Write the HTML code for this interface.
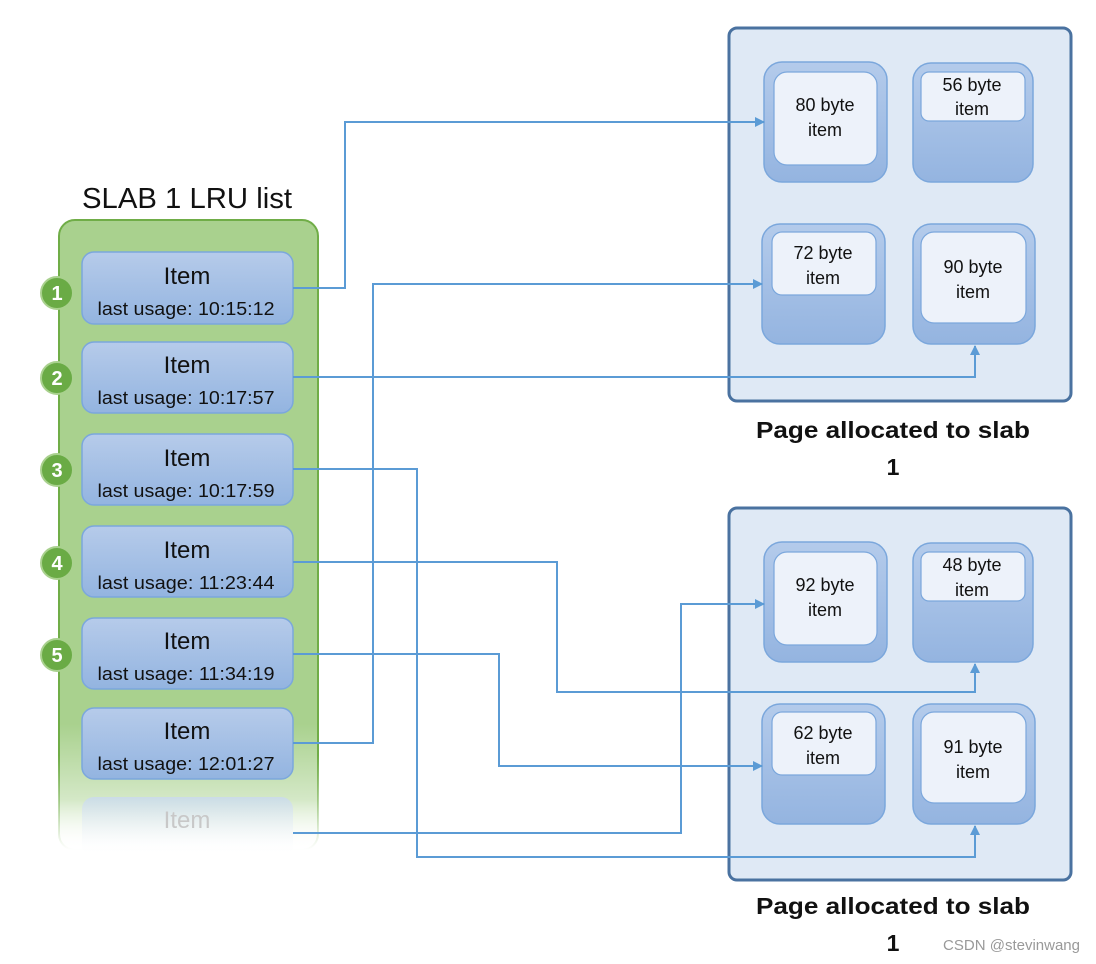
<!DOCTYPE html>
<html><head><meta charset="utf-8"><style>
html,body{margin:0;padding:0;background:#fff;width:1096px;height:964px;overflow:hidden}
svg text{font-family:"Liberation Sans",sans-serif}
</style></head><body>
<svg width="1096" height="964" viewBox="0 0 1096 964" xmlns="http://www.w3.org/2000/svg">
<defs>
<linearGradient id="gfade" x1="0" y1="0" x2="0" y2="1">
<stop offset="0" stop-color="#a9d18e"/>
<stop offset="0.8" stop-color="#a9d18e"/>
<stop offset="0.92" stop-color="#a9d18e" stop-opacity="0.5"/>
<stop offset="1" stop-color="#ffffff" stop-opacity="0"/>
</linearGradient>
<linearGradient id="gstroke" x1="0" y1="0" x2="0" y2="1">
<stop offset="0" stop-color="#70ad47"/>
<stop offset="0.85" stop-color="#70ad47"/>
<stop offset="1" stop-color="#70ad47" stop-opacity="0"/>
</linearGradient>
<linearGradient id="item" x1="0" y1="0" x2="0" y2="1">
<stop offset="0" stop-color="#b6cbea"/>
<stop offset="1" stop-color="#93b4e0"/>
</linearGradient>
<linearGradient id="itemfade" x1="0" y1="0" x2="0" y2="1">
<stop offset="0" stop-color="#c9d9f0" stop-opacity="0.8"/>
<stop offset="1" stop-color="#ffffff" stop-opacity="0"/>
</linearGradient>
<linearGradient id="outer" x1="0" y1="0" x2="0" y2="1">
<stop offset="0" stop-color="#b4cbeb"/>
<stop offset="1" stop-color="#94b4e0"/>
</linearGradient>
<marker id="ar" markerWidth="10" markerHeight="10" refX="9" refY="5" orient="auto" markerUnits="userSpaceOnUse">
<path d="M0,0 L10,5 L0,10 z" fill="#5b9bd5"/>
</marker>
</defs>

<!-- green container -->
<rect x="59" y="220" width="259" height="630" rx="16" fill="url(#gfade)" stroke="url(#gstroke)" stroke-width="2"/>
<text x="187" y="208" font-size="29" text-anchor="middle" fill="#111" textLength="210" lengthAdjust="spacingAndGlyphs">SLAB 1 LRU list</text>

<!-- items -->
<g stroke="#7ba7dc" stroke-width="1.5" fill="url(#item)">
<rect x="82" y="252" width="211" height="72" rx="12"/>
<rect x="82" y="342" width="211" height="71" rx="12"/>
<rect x="82" y="434" width="211" height="71" rx="12"/>
<rect x="82" y="526" width="211" height="71" rx="12"/>
<rect x="82" y="618" width="211" height="71" rx="12"/>
<rect x="82" y="708" width="211" height="71" rx="12"/>
</g>
<rect x="82" y="797" width="211" height="60" rx="12" fill="url(#itemfade)" stroke="none"/>
<g fill="#111" text-anchor="middle">
<text x="187" y="284" font-size="24">Item</text><text x="186" y="315" font-size="18" textLength="177" lengthAdjust="spacingAndGlyphs">last usage: 10:15:12</text>
<text x="187" y="373" font-size="24">Item</text><text x="186" y="404" font-size="18" textLength="177" lengthAdjust="spacingAndGlyphs">last usage: 10:17:57</text>
<text x="187" y="466" font-size="24">Item</text><text x="186" y="497" font-size="18" textLength="177" lengthAdjust="spacingAndGlyphs">last usage: 10:17:59</text>
<text x="187" y="558" font-size="24">Item</text><text x="186" y="589" font-size="18" textLength="177" lengthAdjust="spacingAndGlyphs">last usage: 11:23:44</text>
<text x="187" y="649" font-size="24">Item</text><text x="186" y="680" font-size="18" textLength="177" lengthAdjust="spacingAndGlyphs">last usage: 11:34:19</text>
<text x="187" y="739" font-size="24">Item</text><text x="186" y="770" font-size="18" textLength="177" lengthAdjust="spacingAndGlyphs">last usage: 12:01:27</text>
</g>
<text x="187" y="828" font-size="24" text-anchor="middle" fill="#c8c8c8">Item</text>

<!-- number circles -->
<g>
<circle cx="57" cy="293" r="16" fill="#6aab45" stroke="#a9d18e" stroke-width="2"/>
<circle cx="57" cy="378" r="16" fill="#6aab45" stroke="#a9d18e" stroke-width="2"/>
<circle cx="57" cy="470" r="16" fill="#6aab45" stroke="#a9d18e" stroke-width="2"/>
<circle cx="57" cy="563" r="16" fill="#6aab45" stroke="#a9d18e" stroke-width="2"/>
<circle cx="57" cy="655" r="16" fill="#6aab45" stroke="#a9d18e" stroke-width="2"/>
</g>
<g fill="#fff" font-size="20" font-weight="bold" text-anchor="middle">
<text x="57" y="300">1</text><text x="57" y="385">2</text><text x="57" y="477">3</text><text x="57" y="570">4</text><text x="57" y="662">5</text>
</g>

<!-- pages -->
<g fill="#dfe9f5" stroke="#4a72a0" stroke-width="3">
<rect x="729" y="28" width="342" height="373" rx="8"/>
<rect x="729" y="508" width="342" height="372" rx="8"/>
</g>

<!-- slot boxes -->
<g stroke="#7ba7dc" stroke-width="1.5" fill="url(#outer)">
<rect x="764" y="62" width="123" height="120" rx="18"/>
<rect x="913" y="63" width="120" height="119" rx="18"/>
<rect x="762" y="224" width="123" height="120" rx="18"/>
<rect x="913" y="224" width="122" height="120" rx="18"/>
<rect x="764" y="542" width="123" height="120" rx="18"/>
<rect x="913" y="543" width="120" height="119" rx="18"/>
<rect x="762" y="704" width="123" height="120" rx="18"/>
<rect x="913" y="704" width="122" height="120" rx="18"/>
</g>
<g fill="#edf2fa" stroke="#7ba7dc" stroke-width="1.2">
<rect x="774" y="72" width="103" height="93" rx="13"/>
<rect x="921" y="72" width="104" height="49" rx="8"/>
<rect x="772" y="232" width="104" height="63" rx="10"/>
<rect x="921" y="232" width="105" height="91" rx="13"/>
<rect x="774" y="552" width="103" height="93" rx="13"/>
<rect x="921" y="552" width="104" height="49" rx="8"/>
<rect x="772" y="712" width="104" height="63" rx="10"/>
<rect x="921" y="712" width="105" height="91" rx="13"/>
</g>
<g fill="#111" font-size="18" text-anchor="middle">
<text x="825" y="111">80 byte</text><text x="825" y="136">item</text>
<text x="972" y="91">56 byte</text><text x="972" y="115">item</text>
<text x="823" y="259">72 byte</text><text x="823" y="284">item</text>
<text x="973" y="273">90 byte</text><text x="973" y="298">item</text>
<text x="825" y="591">92 byte</text><text x="825" y="616">item</text>
<text x="972" y="571">48 byte</text><text x="972" y="596">item</text>
<text x="823" y="739">62 byte</text><text x="823" y="764">item</text>
<text x="973" y="753">91 byte</text><text x="973" y="778">item</text>
</g>

<g fill="#111" font-size="23" font-weight="bold" text-anchor="middle">
<text x="893" y="438" textLength="274" lengthAdjust="spacingAndGlyphs">Page allocated to slab</text>
<text x="893" y="475">1</text>
<text x="893" y="914" textLength="274" lengthAdjust="spacingAndGlyphs">Page allocated to slab</text>
<text x="893" y="951">1</text>
</g>

<!-- connectors -->
<g fill="none" stroke="#5b9bd5" stroke-width="2" marker-end="url(#ar)">
<polyline points="293,288 345,288 345,122 764,122"/>
<polyline points="293,377 975,377 975,346"/>
<polyline points="293,743 373,743 373,284 762,284"/>
<polyline points="293,469 417,469 417,857 975,857 975,826"/>
<polyline points="293,562 557,562 557,692 975,692 975,664"/>
<polyline points="293,654 499,654 499,766 762,766"/>
<polyline points="293,833 681,833 681,604 764,604"/>
</g>

<text x="1080" y="950" font-size="15" fill="#999" text-anchor="end">CSDN @stevinwang</text>
</svg>
</body></html>
